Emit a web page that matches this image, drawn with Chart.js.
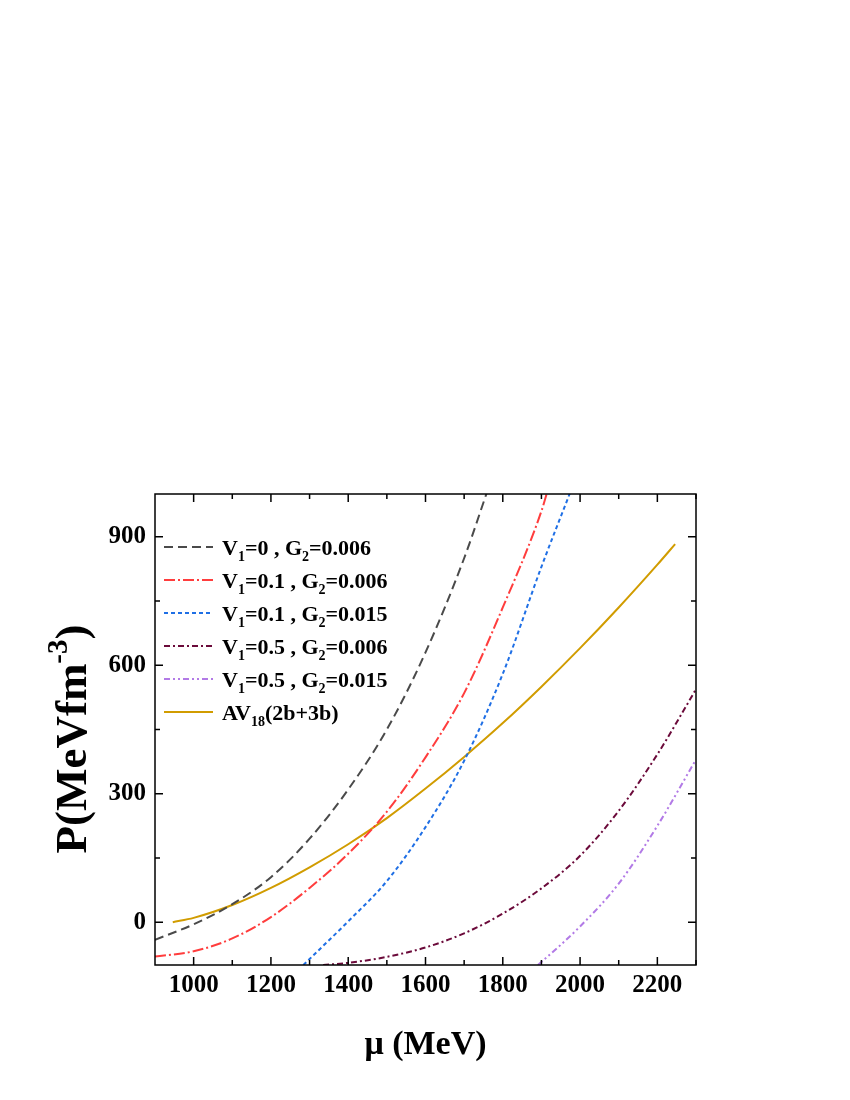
<!DOCTYPE html>
<html>
<head>
<meta charset="utf-8">
<script src="https://cdn.jsdelivr.net/npm/chart.js@4"></script>
<style>
  html, body { margin: 0; background: #fff; }
  #wrap { width: 850px; height: 1100px; }
</style>
</head>
<body>
<div id="wrap"><canvas id="c" width="850" height="1100"></canvas></div>
<script>
// ---- Data ----
const muA = [900, 1000, 1100, 1200, 1300, 1400, 1500, 1600, 1700, 1765];
const pA  = [-41, -5, 42, 105, 195, 310, 450, 630, 850, 1020];

const muB = [900, 1000, 1100, 1200, 1300, 1400, 1500, 1600, 1700, 1800, 1900, 1915];
const pB  = [-80, -68, -38, 12, 80, 160, 258, 385, 535, 735, 960, 1005];

const muC = [1284, 1300, 1400, 1500, 1600, 1700, 1800, 1900, 1975];
const pC  = [-100, -86, 2, 96, 222, 377, 580, 830, 1005];

const muD = [1335, 1400, 1500, 1600, 1700, 1800, 1900, 2000, 2100, 2200, 2300];
const pD  = [-100, -95, -81, -59, -26, 20, 79, 155, 260, 392, 544];

const muE = [1891, 1900, 2000, 2100, 2200, 2300];
const pE  = [-100, -93, -10, 90, 225, 380];

const muF = [946, 1000, 1100, 1200, 1300, 1400, 1500, 1600, 1700, 1800, 1900, 2000, 2100, 2200, 2246];
const pF  = [0, 10, 40, 80, 128, 182, 243, 312, 386, 465, 550, 640, 735, 835, 883];

const seriesLabels = [
  'V_1=0 , G_2=0.006',
  'V_1=0.1 , G_2=0.006',
  'V_1=0.1 , G_2=0.015',
  'V_1=0.5 , G_2=0.006',
  'V_1=0.5 , G_2=0.015',
  'AV_18(2b+3b)'
];

const xTicks = [1000, 1200, 1400, 1600, 1800, 2000, 2200];
const xMinor = [1100, 1300, 1500, 1700, 1900, 2100, 2300];
const yTicks = [0, 300, 600, 900];
const yMinor = [150, 450, 750];

const FONT = "'Liberation Serif', 'Times New Roman', serif";

function pts(xs, ys) {
  return xs.map((x, i) => ({ x: x, y: ys[i] }));
}

// ---- Rich text helper (sub/superscripts) ----
function richParts(text) {
  return text.split(/(_\d+|\^[-\d]+)/).filter(s => s.length).map(s => {
    if (s[0] === '_') return { t: s.slice(1), k: 'sub' };
    if (s[0] === '^') return { t: s.slice(1), k: 'sup' };
    return { t: s, k: 'n' };
  });
}
function drawRich(ctx, text, x, y, size, measureOnly) {
  let cx = x;
  richParts(text).forEach(p => {
    const s = p.k === 'n' ? size : Math.round(size * 0.65);
    ctx.font = `bold ${s}px ${FONT}`;
    let dy = 0;
    if (p.k === 'sub') dy = size * 0.28;
    if (p.k === 'sup') dy = -size * 0.42;
    if (!measureOnly) ctx.fillText(p.t, cx, y + dy);
    cx += ctx.measureText(p.t).width;
  });
  return cx - x;
}

// ---- Frame, inward ticks, titles, legend ----
const framePlugin = {
  id: 'frame',
  afterDraw(chart) {
    const { ctx, chartArea: a, scales } = chart;
    const xs = scales.x, ys = scales.y;
    ctx.save();
    ctx.strokeStyle = '#000';
    ctx.lineWidth = 1.5;
    ctx.strokeRect(a.left, a.top, a.right - a.left, a.bottom - a.top);

    ctx.beginPath();
    const xt = (v, len) => {
      const px = xs.getPixelForValue(v);
      ctx.moveTo(px, a.bottom); ctx.lineTo(px, a.bottom - len);
      ctx.moveTo(px, a.top); ctx.lineTo(px, a.top + len);
    };
    const yt = (v, len) => {
      const py = ys.getPixelForValue(v);
      ctx.moveTo(a.left, py); ctx.lineTo(a.left + len, py);
      ctx.moveTo(a.right, py); ctx.lineTo(a.right - len, py);
    };
    xTicks.forEach(v => xt(v, 8));
    xMinor.forEach(v => xt(v, 5));
    yTicks.forEach(v => yt(v, 8));
    yMinor.forEach(v => yt(v, 5));
    ctx.stroke();

    // axis titles
    ctx.fillStyle = '#000';
    ctx.textBaseline = 'alphabetic';
    ctx.textAlign = 'left';
    const xTitle = 'μ (MeV)';
    let w = drawRich(ctx, xTitle, 0, 0, 34, true);
    drawRich(ctx, xTitle, (a.left + a.right) / 2 - w / 2, 1054, 34);

    const yTitle = 'P(MeVfm^-3)';
    ctx.save();
    ctx.translate(86, 739);
    ctx.rotate(-Math.PI / 2);
    w = drawRich(ctx, yTitle, 0, 0, 45, true);
    drawRich(ctx, yTitle, -w / 2, 0, 45);
    ctx.restore();

    // legend
    chart.data.datasets.forEach((ds, i) => {
      const cy = 547 + i * 33;
      ctx.save();
      ctx.strokeStyle = ds.borderColor;
      ctx.lineWidth = 2;
      ctx.setLineDash(ds.borderDash || []);
      ctx.beginPath();
      ctx.moveTo(164, cy); ctx.lineTo(213, cy);
      ctx.stroke();
      ctx.restore();
      ctx.fillStyle = '#000';
      drawRich(ctx, ds.label, 222, cy + 8, 22);
    });
    ctx.restore();
  }
};

const colors = ['#4a4a4a', '#ff3d3d', '#1f6fe5', '#6b0a3a', '#b27ae6', '#d19c00'];
const dashes = [[9, 5], [11, 3, 2, 3], [4, 3], [6, 3, 2, 3], [6, 3, 2, 3, 2, 3], []];
const series = [pts(muA, pA), pts(muB, pB), pts(muC, pC), pts(muD, pD), pts(muE, pE), pts(muF, pF)];

const ctx = document.getElementById('c').getContext('2d');
new Chart(ctx, {
  type: 'scatter',
  data: {
    datasets: series.map((d, i) => ({
      label: seriesLabels[i],
      data: d,
      showLine: true,
      borderColor: colors[i],
      backgroundColor: colors[i],
      borderWidth: 2,
      borderDash: dashes[i],
      pointRadius: 0,
      cubicInterpolationMode: 'monotone',
      fill: false
    }))
  },
  options: {
    responsive: false,
    animation: false,
    devicePixelRatio: 1,
    layout: { padding: { left: 0, top: 494, right: 154, bottom: 0 } },
    plugins: {
      legend: { display: false },
      tooltip: { enabled: false }
    },
    scales: {
      x: {
        type: 'linear',
        min: 900, max: 2300,
        grid: { display: false, drawTicks: false },
        border: { display: false },
        afterBuildTicks: s => { s.ticks = xTicks.map(v => ({ value: v })); },
        afterFit: s => { s.height = 135; },
        ticks: {
          color: '#000',
          padding: 6,
          maxRotation: 0,
          callback: v => String(v),
          font: { family: FONT, weight: 'bold', size: 25 }
        }
      },
      y: {
        type: 'linear',
        min: -100, max: 1000,
        grid: { display: false, drawTicks: false },
        border: { display: false },
        afterBuildTicks: s => { s.ticks = yTicks.map(v => ({ value: v })); },
        afterFit: s => { s.width = 155; },
        ticks: {
          color: '#000',
          padding: 9,
          callback: v => String(v),
          font: { family: FONT, weight: 'bold', size: 25 }
        }
      }
    }
  },
  plugins: [framePlugin]
});
</script>
</body>
</html>
